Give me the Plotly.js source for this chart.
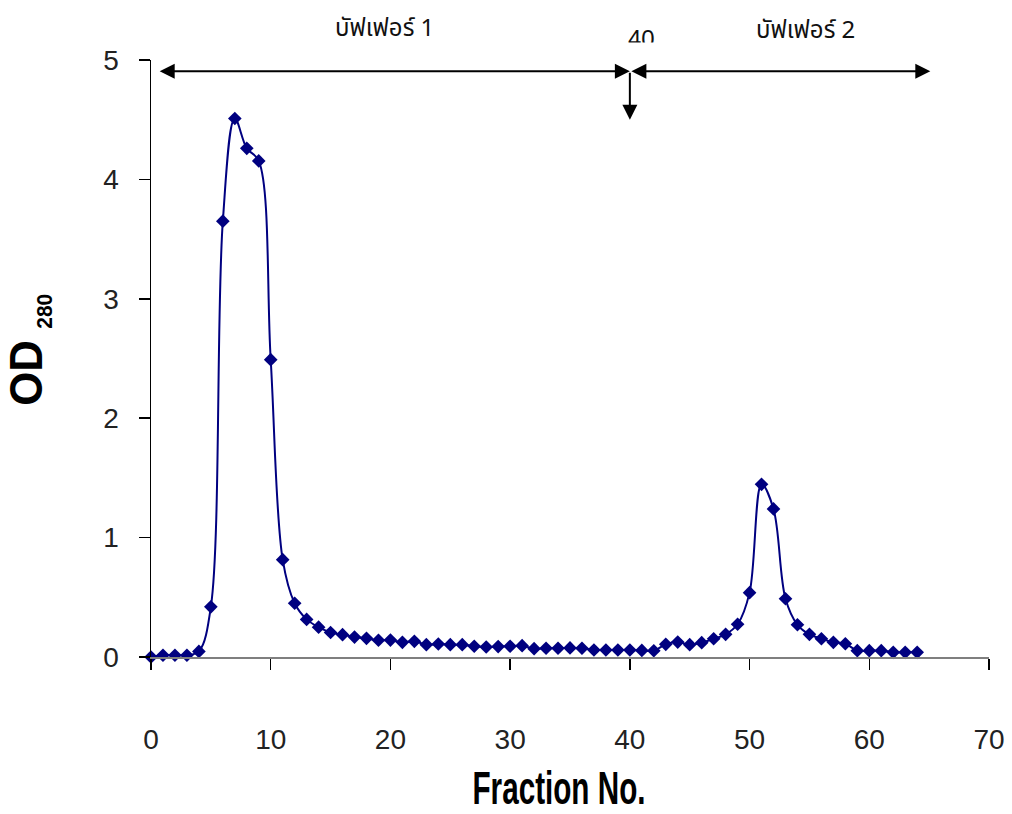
<!DOCTYPE html>
<html>
<head>
<meta charset="utf-8">
<script src="https://cdn.plot.ly/plotly-3.0.1.min.js"></script>
<style>
  html, body { margin: 0; padding: 0; background: #fff; }
  #chart { width: 1012px; height: 814px; }
</style>
</head>
<body>
<div id="chart"></div>
<script>
// Elution profile: absorbance at 280 nm for each collected fraction
const fractions = [0, 1, 2, 3, 4, 5, 6, 7, 8, 9, 10, 11, 12, 13, 14, 15, 16, 17, 18, 19,
  20, 21, 22, 23, 24, 25, 26, 27, 28, 29, 30, 31, 32, 33, 34, 35, 36, 37, 38, 39,
  40, 41, 42, 43, 44, 45, 46, 47, 48, 49, 50, 51, 52, 53, 54, 55, 56, 57, 58, 59,
  60, 61, 62, 63, 64];
const od280 = [0, 0.015, 0.015, 0.015, 0.047, 0.42, 3.65, 4.51, 4.26, 4.155,
  2.49, 0.815, 0.45, 0.315, 0.25, 0.205, 0.187, 0.167, 0.156, 0.14,
  0.142, 0.123, 0.131, 0.103, 0.109, 0.103, 0.103, 0.09, 0.084, 0.087,
  0.09, 0.095, 0.07, 0.073, 0.073, 0.076, 0.073, 0.059, 0.059, 0.059,
  0.059, 0.055, 0.052, 0.106, 0.125, 0.103, 0.12, 0.153, 0.19, 0.274,
  0.539, 1.446, 1.24, 0.488, 0.27, 0.19, 0.153, 0.123, 0.111, 0.053,
  0.053, 0.053, 0.039, 0.039, 0.039];

// Buffer ranges shown along the top of the plot
const bufferLabels = ['บัฟเฟอร์ 1', 'บัฟเฟอร์ 2'];
const bufferStart = [0.6, 40];
const bufferEnd = [40, 65.1];
const switchFraction = 40;
const xTicks = [0, 10, 20, 30, 40, 50, 60, 70];
const yTicks = [0, 1, 2, 3, 4, 5];

const navy = '#000080';
const thaiFont = '"Noto Sans Thai", "Noto Sans Thai UI", Loma, Garuda, "Tlwg Typo", Norasi, "Noto Sans", sans-serif';
const tickFamily = '"Liberation Sans", Arial, sans-serif';
const titleFamily = '"Liberation Sans", Arial, sans-serif';

const trace = {
  x: fractions,
  y: od280,
  type: 'scatter',
  mode: 'lines+markers',
  line: { color: navy, width: 2, shape: 'spline', smoothing: 1 },
  marker: { symbol: 'diamond', size: 10.5, color: navy },
  cliponaxis: false,
  hoverinfo: 'x+y'
};

const arrowY = 4.905;
const annotations = [
  // buffer 1 span
  {
    x: bufferEnd[0], y: arrowY, ax: bufferStart[0], ay: arrowY,
    xref: 'x', yref: 'y', axref: 'x', ayref: 'y',
    text: '', showarrow: true, arrowhead: 2, startarrowhead: 2,
    arrowside: 'end+start', arrowsize: 1.5, startarrowsize: 1.5,
    arrowwidth: 2, arrowcolor: '#000', standoff: 0, startstandoff: 0
  },
  // buffer 2 span
  {
    x: bufferEnd[1], y: arrowY, ax: bufferStart[1], ay: arrowY,
    xref: 'x', yref: 'y', axref: 'x', ayref: 'y',
    text: '', showarrow: true, arrowhead: 2, startarrowhead: 2,
    arrowside: 'end+start', arrowsize: 1.5, startarrowsize: 1.5,
    arrowwidth: 2, arrowcolor: '#000', standoff: 0, startstandoff: 0
  },
  // switch-over marker
  {
    x: switchFraction, y: 4.5, ax: switchFraction, ay: arrowY,
    xref: 'x', yref: 'y', axref: 'x', ayref: 'y',
    text: '', showarrow: true, arrowhead: 2, arrowsize: 1.5,
    arrowwidth: 2, arrowcolor: '#000', standoff: 0
  },
  {
    x: 19.47, y: 1.0, xref: 'x', yref: 'paper',
    yanchor: 'middle', yshift: 31,
    text: bufferLabels[0], showarrow: false,
    font: { family: thaiFont, size: 24, color: '#111' }
  },
  {
    x: 54.64, y: 1.0, xref: 'x', yref: 'paper',
    yanchor: 'middle', yshift: 29,
    text: bufferLabels[1], showarrow: false,
    font: { family: thaiFont, size: 24, color: '#111' }
  },
  {
    x: switchFraction + 0.95, y: 1.0, xref: 'x', yref: 'paper',
    yanchor: 'middle', yshift: 22,
    text: String(switchFraction), showarrow: false,
    font: { family: tickFamily, size: 24, color: '#111' }
  },
  // the "40" label box is cut short at its lower edge
  {
    x: switchFraction + 0.95, y: 1.0, xref: 'x', yref: 'paper',
    yanchor: 'top', yshift: 18, text: ' ', showarrow: false,
    width: 36, height: 12, bgcolor: '#fff', borderpad: 0
  }
];

const layout = {
  width: 1012,
  height: 814,
  margin: { l: 151, r: 23, t: 60, b: 157, pad: 0 },
  paper_bgcolor: '#fff',
  plot_bgcolor: 'rgba(0,0,0,0)',
  showlegend: false,
  xaxis: {
    range: [0, 70],
    tickvals: xTicks,
    ticktext: xTicks.map(String),
    ticks: 'outside', ticklen: 11, tickwidth: 1.5, tickcolor: '#000',
    showline: true, linecolor: '#7f7f7f', linewidth: 2,
    showgrid: false, zeroline: false,
    ticklabelstandoff: 45,
    tickfont: { family: tickFamily, size: 28, color: '#222' },
    title: {
      text: 'Fraction No.',
      standoff: 18,
      font: { family: titleFamily, size: 46, weight: 'bold', color: '#000' }
    }
  },
  yaxis: {
    range: [0, 5],
    tickvals: yTicks,
    ticktext: yTicks.map(String),
    ticks: 'outside', ticklen: 11, tickwidth: 1.5, tickcolor: '#000',
    showline: true, linecolor: '#000', linewidth: 1.5,
    showgrid: false, zeroline: false,
    ticklabelstandoff: 14,
    tickfont: { family: tickFamily, size: 28, color: '#222' },
    title: {
      text: 'OD<sub><span style="font-size:22px">  280</span></sub>',
      standoff: 63,
      font: { family: titleFamily, size: 46, weight: 'bold', color: '#000' }
    }
  },
  annotations: annotations
};

Plotly.newPlot('chart', [trace], layout, { displayModeBar: false, staticPlot: true }).then(function (gd) {
  // squeeze the x-axis title into a tall condensed face, centred at x = 559
  const t = gd.querySelector('.xtitle');
  if (t) {
    const b = t.getBBox();
    const cx = b.x + b.width / 2;
    const cy = b.y + b.height / 2;
    t.setAttribute('transform',
      'translate(559,' + cy + ') scale(0.645,1) translate(' + (-cx) + ',' + (-cy) + ')');
  }
  // nudge the y-axis title a little higher and narrow it slightly along its length
  const yt = gd.querySelector('.ytitle');
  if (yt) {
    const b = yt.getBBox();
    const prev = yt.getAttribute('transform') || '';
    const cx = b.x + b.width / 2;
    const cy = b.y + b.height / 2;
    yt.setAttribute('transform',
      'translate(0,-8) translate(' + cx + ',' + cy + ') scale(1,0.95) translate(' + (-cx) + ',' + (-cy) + ') ' + prev);
  }
});
</script>
</body>
</html>
